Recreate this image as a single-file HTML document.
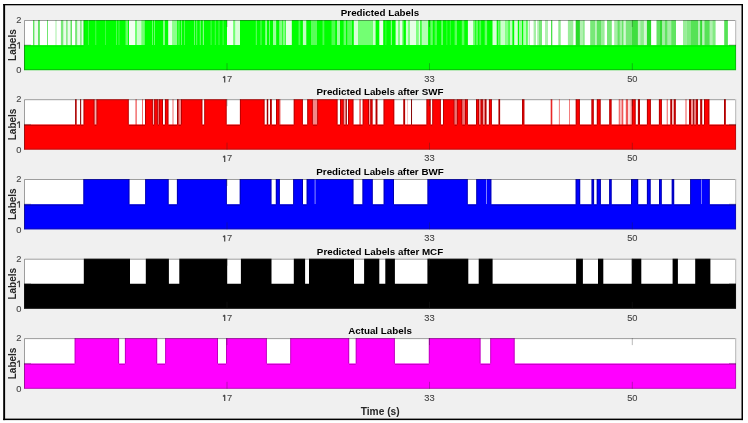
<!DOCTYPE html><html><head><meta charset="utf-8"><style>html,body{margin:0;padding:0;background:#fff;}svg{display:block;will-change:transform;}text{font-family:"Liberation Sans",sans-serif;}.tk{font-size:9.3px;fill:#444;stroke:#444;stroke-width:0.1px;}</style></head><body>
<svg width="748" height="423" viewBox="0 0 748 423">
<rect x="0" y="0" width="748" height="423" fill="#ffffff"/>
<rect x="4" y="4.6" width="738" height="414.8" fill="#f0f0f0"/>
<rect x="3.2" y="4.0" width="739.8" height="1.3" fill="#000"/>
<rect x="3.2" y="418.6" width="739.8" height="1.5" fill="#000"/>
<rect x="3.2" y="4.0" width="1.9" height="416.1" fill="#000"/>
<rect x="741.5" y="4.0" width="1.5" height="416.1" fill="#000"/>
<rect x="24" y="20" width="712" height="50.2" fill="#fff"/>
<rect x="33" y="20" width="1.4" height="26.1" fill="#1ed81e" fill-opacity="0.7"/>
<rect x="34.4" y="20" width="3.6" height="26.1" fill="#1ed81e" fill-opacity="0.08"/>
<rect x="38" y="20" width="1.9" height="26.1" fill="#1ed81e" fill-opacity="0.7"/>
<rect x="47.1" y="20" width="0.8" height="26.1" fill="#1ed81e" fill-opacity="0.8"/>
<rect x="55.5" y="20" width="1" height="26.1" fill="#1ed81e" fill-opacity="0.4"/>
<rect x="60.9" y="20" width="2.4" height="26.1" fill="#1ed81e" fill-opacity="0.6"/>
<rect x="63.3" y="20" width="3" height="26.1" fill="#1ed81e" fill-opacity="0.1"/>
<rect x="66.3" y="20" width="1.2" height="26.1" fill="#1ed81e" fill-opacity="0.7"/>
<rect x="67.5" y="20" width="3" height="26.1" fill="#1ed81e" fill-opacity="0.1"/>
<rect x="70.5" y="20" width="1.5" height="26.1" fill="#1ed81e" fill-opacity="0.7"/>
<rect x="75.1" y="20" width="2.1" height="26.1" fill="#1ed81e" fill-opacity="0.6"/>
<rect x="77.2" y="20" width="3" height="26.1" fill="#1ed81e" fill-opacity="0.1"/>
<rect x="80.2" y="20" width="1.4" height="26.1" fill="#1ed81e" fill-opacity="0.6"/>
<rect x="81.6" y="20" width="1.9" height="26.1" fill="#1ed81e" fill-opacity="0.1"/>
<rect x="83.5" y="20" width="446.5" height="26.1" fill="#00ff00"/>
<rect x="533.6" y="20" width="2.4" height="26.1" fill="#1ed81e" fill-opacity="0.4"/>
<rect x="537.2" y="20" width="1.8" height="26.1" fill="#1ed81e" fill-opacity="0.35"/>
<rect x="539" y="20" width="3" height="26.1" fill="#1ed81e" fill-opacity="0.6"/>
<rect x="545" y="20" width="3" height="26.1" fill="#1ed81e" fill-opacity="0.35"/>
<rect x="551" y="20" width="1.3" height="26.1" fill="#1ed81e" fill-opacity="0.8"/>
<rect x="558.3" y="20" width="2.4" height="26.1" fill="#1ed81e" fill-opacity="0.5"/>
<rect x="567.9" y="20" width="5.4" height="26.1" fill="#1ed81e" fill-opacity="0.45"/>
<rect x="575.7" y="20" width="4.2" height="26.1" fill="#1ed81e" fill-opacity="0.95"/>
<rect x="579.9" y="20" width="3" height="26.1" fill="#1ed81e" fill-opacity="0.35"/>
<rect x="582.9" y="20" width="1.8" height="26.1" fill="#1ed81e" fill-opacity="0.5"/>
<rect x="590.2" y="20" width="4.8" height="26.1" fill="#1ed81e" fill-opacity="0.6"/>
<rect x="595" y="20" width="1.8" height="26.1" fill="#1ed81e" fill-opacity="0.3"/>
<rect x="596.8" y="20" width="4.2" height="26.1" fill="#1ed81e" fill-opacity="0.7"/>
<rect x="601" y="20" width="3.6" height="26.1" fill="#1ed81e" fill-opacity="0.45"/>
<rect x="607" y="20" width="4.8" height="26.1" fill="#1ed81e" fill-opacity="0.6"/>
<rect x="614.2" y="20" width="3.2" height="26.1" fill="#1ed81e" fill-opacity="0.4"/>
<rect x="617.4" y="20" width="2.4" height="26.1" fill="#1ed81e" fill-opacity="0.7"/>
<rect x="619.8" y="20" width="2.4" height="26.1" fill="#1ed81e" fill-opacity="0.4"/>
<rect x="622.2" y="20" width="1.2" height="26.1" fill="#1ed81e" fill-opacity="0.8"/>
<rect x="623.4" y="20" width="2.4" height="26.1" fill="#1ed81e" fill-opacity="0.2"/>
<rect x="625.8" y="20" width="6" height="26.1" fill="#1ed81e" fill-opacity="0.6"/>
<rect x="631.8" y="20" width="6.1" height="26.1" fill="#1ed81e" fill-opacity="0.85"/>
<rect x="637.9" y="20" width="2.4" height="26.1" fill="#1ed81e" fill-opacity="0.3"/>
<rect x="640.3" y="20" width="3.6" height="26.1" fill="#1ed81e" fill-opacity="0.5"/>
<rect x="643.9" y="20" width="3" height="26.1" fill="#1ed81e" fill-opacity="0.2"/>
<rect x="646.9" y="20" width="4.2" height="26.1" fill="#1ed81e" fill-opacity="0.95"/>
<rect x="656.5" y="20" width="3.5" height="26.1" fill="#1ed81e" fill-opacity="0.7"/>
<rect x="660" y="20" width="2.1" height="26.1" fill="#1ed81e" fill-opacity="0.9"/>
<rect x="662.1" y="20" width="2.7" height="26.1" fill="#1ed81e" fill-opacity="0.4"/>
<rect x="664.8" y="20" width="2.7" height="26.1" fill="#1ed81e" fill-opacity="0.7"/>
<rect x="667.5" y="20" width="3.7" height="26.1" fill="#1ed81e" fill-opacity="0.4"/>
<rect x="671.2" y="20" width="4.8" height="26.1" fill="#1ed81e" fill-opacity="0.7"/>
<rect x="683" y="20" width="3.7" height="26.1" fill="#1ed81e" fill-opacity="0.45"/>
<rect x="686.7" y="20" width="4.3" height="26.1" fill="#1ed81e" fill-opacity="0.55"/>
<rect x="691" y="20" width="7" height="26.1" fill="#1ed81e" fill-opacity="0.75"/>
<rect x="698" y="20" width="2.1" height="26.1" fill="#1ed81e" fill-opacity="0.35"/>
<rect x="700.1" y="20" width="2.1" height="26.1" fill="#1ed81e" fill-opacity="0.9"/>
<rect x="702.2" y="20" width="2.2" height="26.1" fill="#1ed81e" fill-opacity="0.3"/>
<rect x="704.4" y="20" width="5.3" height="26.1" fill="#1ed81e" fill-opacity="0.75"/>
<rect x="709.7" y="20" width="2.7" height="26.1" fill="#1ed81e" fill-opacity="0.35"/>
<rect x="712.4" y="20" width="3.2" height="26.1" fill="#1ed81e" fill-opacity="0.55"/>
<rect x="724.2" y="20" width="3.7" height="26.1" fill="#1ed81e" fill-opacity="0.75"/>
<rect x="88.2" y="20" width="0.8" height="25.1" fill="#fff" fill-opacity="0.3"/>
<rect x="95.4" y="20" width="0.8" height="25.1" fill="#fff" fill-opacity="0.35"/>
<rect x="105" y="20" width="0.8" height="25.1" fill="#fff" fill-opacity="0.3"/>
<rect x="116" y="20" width="1" height="25.1" fill="#fff" fill-opacity="0.3"/>
<rect x="118.5" y="20" width="1" height="25.1" fill="#fff" fill-opacity="0.3"/>
<rect x="125.5" y="20" width="2.5" height="25.1" fill="#fff" fill-opacity="0.4"/>
<rect x="129" y="20" width="6" height="25.1" fill="#fff" fill-opacity="0.95"/>
<rect x="135" y="20" width="2" height="25.1" fill="#fff" fill-opacity="0.45"/>
<rect x="137" y="20" width="4.6" height="25.1" fill="#fff" fill-opacity="0.8"/>
<rect x="141.6" y="20" width="3.2" height="25.1" fill="#fff" fill-opacity="0.45"/>
<rect x="152" y="20" width="1" height="25.1" fill="#fff" fill-opacity="0.4"/>
<rect x="154" y="20" width="1" height="25.1" fill="#fff" fill-opacity="0.4"/>
<rect x="163" y="20" width="2" height="25.1" fill="#fff" fill-opacity="0.5"/>
<rect x="168.2" y="20" width="4.2" height="25.1" fill="#fff" fill-opacity="0.9"/>
<rect x="172.4" y="20" width="4.8" height="25.1" fill="#fff" fill-opacity="0.55"/>
<rect x="178.4" y="20" width="1.1" height="25.1" fill="#fff" fill-opacity="0.4"/>
<rect x="181" y="20" width="1" height="25.1" fill="#fff" fill-opacity="0.4"/>
<rect x="184" y="20" width="1" height="25.1" fill="#fff" fill-opacity="0.3"/>
<rect x="194" y="20" width="1" height="25.1" fill="#fff" fill-opacity="0.4"/>
<rect x="196.2" y="20" width="1" height="25.1" fill="#fff" fill-opacity="0.4"/>
<rect x="199.8" y="20" width="1" height="25.1" fill="#fff" fill-opacity="0.45"/>
<rect x="202.8" y="20" width="1.2" height="25.1" fill="#fff" fill-opacity="0.5"/>
<rect x="210.6" y="20" width="1" height="25.1" fill="#fff" fill-opacity="0.3"/>
<rect x="214.8" y="20" width="1" height="25.1" fill="#fff" fill-opacity="0.3"/>
<rect x="218.5" y="20" width="1" height="25.1" fill="#fff" fill-opacity="0.3"/>
<rect x="222.6" y="20" width="1" height="25.1" fill="#fff" fill-opacity="0.3"/>
<rect x="227" y="20" width="6.3" height="25.1" fill="#fff" fill-opacity="0.95"/>
<rect x="233.3" y="20" width="1.8" height="25.1" fill="#fff" fill-opacity="0.45"/>
<rect x="235.1" y="20" width="4.9" height="25.1" fill="#fff" fill-opacity="0.85"/>
<rect x="255.8" y="20" width="1" height="25.1" fill="#fff" fill-opacity="0.4"/>
<rect x="260.5" y="20" width="1" height="25.1" fill="#fff" fill-opacity="0.4"/>
<rect x="265.2" y="20" width="1.8" height="25.1" fill="#fff" fill-opacity="0.55"/>
<rect x="269" y="20" width="1" height="25.1" fill="#fff" fill-opacity="0.45"/>
<rect x="273" y="20" width="2.4" height="25.1" fill="#fff" fill-opacity="0.6"/>
<rect x="275" y="20" width="1.2" height="25.1" fill="#fff" fill-opacity="0.5"/>
<rect x="279.2" y="20" width="3" height="25.1" fill="#fff" fill-opacity="0.5"/>
<rect x="282.8" y="20" width="2.4" height="25.1" fill="#fff" fill-opacity="0.5"/>
<rect x="285.8" y="20" width="6" height="25.1" fill="#fff" fill-opacity="0.9"/>
<rect x="298.5" y="20" width="1.8" height="25.1" fill="#fff" fill-opacity="0.3"/>
<rect x="302.9" y="20" width="3.4" height="25.1" fill="#fff" fill-opacity="0.75"/>
<rect x="311" y="20" width="6" height="25.1" fill="#fff" fill-opacity="0.35"/>
<rect x="322.5" y="20" width="1.8" height="25.1" fill="#fff" fill-opacity="0.3"/>
<rect x="331.5" y="20" width="3.7" height="25.1" fill="#fff" fill-opacity="0.3"/>
<rect x="337" y="20" width="3" height="25.1" fill="#fff" fill-opacity="0.6"/>
<rect x="343.6" y="20" width="2.4" height="25.1" fill="#fff" fill-opacity="0.4"/>
<rect x="347.2" y="20" width="4.8" height="25.1" fill="#fff" fill-opacity="0.35"/>
<rect x="353.8" y="20" width="4.2" height="25.1" fill="#fff" fill-opacity="0.85"/>
<rect x="358" y="20" width="14.4" height="25.1" fill="#fff" fill-opacity="0.45"/>
<rect x="372.6" y="20" width="3" height="25.1" fill="#fff" fill-opacity="0.8"/>
<rect x="379.3" y="20" width="3.9" height="25.1" fill="#fff" fill-opacity="0.92"/>
<rect x="385.5" y="20" width="0.8" height="25.1" fill="#fff" fill-opacity="0.3"/>
<rect x="390.8" y="20" width="1.2" height="25.1" fill="#fff" fill-opacity="0.5"/>
<rect x="395.6" y="20" width="2.4" height="25.1" fill="#fff" fill-opacity="0.85"/>
<rect x="398" y="20" width="1.9" height="25.1" fill="#fff" fill-opacity="0.5"/>
<rect x="399.9" y="20" width="2.4" height="25.1" fill="#fff" fill-opacity="0.9"/>
<rect x="402.3" y="20" width="1.2" height="25.1" fill="#fff" fill-opacity="0.5"/>
<rect x="405.9" y="20" width="2.4" height="25.1" fill="#fff" fill-opacity="0.8"/>
<rect x="408.3" y="20" width="1.7" height="25.1" fill="#fff" fill-opacity="0.5"/>
<rect x="410" y="20" width="6" height="25.1" fill="#fff" fill-opacity="0.9"/>
<rect x="416" y="20" width="2.5" height="25.1" fill="#fff" fill-opacity="0.5"/>
<rect x="418.5" y="20" width="1.8" height="25.1" fill="#fff" fill-opacity="0.85"/>
<rect x="421.5" y="20" width="6.6" height="25.1" fill="#fff" fill-opacity="0.7"/>
<rect x="430.4" y="20" width="2.4" height="25.1" fill="#fff" fill-opacity="0.4"/>
<rect x="434.6" y="20" width="2.4" height="25.1" fill="#fff" fill-opacity="0.3"/>
<rect x="441.2" y="20" width="1.8" height="25.1" fill="#fff" fill-opacity="0.4"/>
<rect x="446.2" y="20" width="1.2" height="25.1" fill="#fff" fill-opacity="0.2"/>
<rect x="449.8" y="20" width="1.2" height="25.1" fill="#fff" fill-opacity="0.2"/>
<rect x="454.6" y="20" width="2.4" height="25.1" fill="#fff" fill-opacity="0.35"/>
<rect x="461.8" y="20" width="2.5" height="25.1" fill="#fff" fill-opacity="0.35"/>
<rect x="467.9" y="20" width="5.4" height="25.1" fill="#fff" fill-opacity="0.9"/>
<rect x="473.3" y="20" width="1.8" height="25.1" fill="#fff" fill-opacity="0.4"/>
<rect x="475.7" y="20" width="2.4" height="25.1" fill="#fff" fill-opacity="0.35"/>
<rect x="479.3" y="20" width="1.8" height="25.1" fill="#fff" fill-opacity="0.3"/>
<rect x="484.7" y="20" width="2.4" height="25.1" fill="#fff" fill-opacity="0.4"/>
<rect x="492.5" y="20" width="4.2" height="25.1" fill="#fff" fill-opacity="0.85"/>
<rect x="497.9" y="20" width="1.8" height="25.1" fill="#fff" fill-opacity="0.4"/>
<rect x="500.3" y="20" width="4.9" height="25.1" fill="#fff" fill-opacity="0.8"/>
<rect x="505.2" y="20" width="3.4" height="25.1" fill="#fff" fill-opacity="0.55"/>
<rect x="509.6" y="20" width="2.8" height="25.1" fill="#fff" fill-opacity="0.75"/>
<rect x="514.2" y="20" width="3.6" height="25.1" fill="#fff" fill-opacity="0.85"/>
<rect x="519" y="20" width="3" height="25.1" fill="#fff" fill-opacity="0.6"/>
<rect x="523.2" y="20" width="3.3" height="25.1" fill="#fff" fill-opacity="0.7"/>
<rect x="527.5" y="20" width="2.5" height="25.1" fill="#fff" fill-opacity="0.85"/>
<rect x="24" y="45.1" width="712" height="25.1" fill="#00ff00"/>
<path d="M24 46H83.5M84 20V45.1M529.5 20V45.1M530 46H736" fill="none" stroke="#000" stroke-opacity="0.12" stroke-width="1"/>
<path d="M24.5 70.2V20.5H735" fill="none" stroke="#262626" stroke-opacity="0.45" stroke-width="1"/>
<path d="M735.6 20V70.2" fill="none" stroke="#262626" stroke-opacity="0.28" stroke-width="1.2"/>
<path d="M25 69.7H735M227 70.2V63.2M227 20V27M429.5 70.2V63.2M429.5 20V27M632.3 70.2V63.2M632.3 20V27M24 45.1H31M736 45.1H729" fill="none" stroke="#262626" stroke-opacity="0.32" stroke-width="1"/>
<text x="21.3" y="23" class="tk" text-anchor="end">2</text>
<text x="21.3" y="73.4" class="tk" text-anchor="end">0</text>
<path d="M19.45 42.2V48.65M17.1 44.1L19.45 42.2" fill="none" stroke="#444" stroke-width="1.15"/>
<path d="M224.7 76.3V82.4M223 77.9L224.7 76.3" fill="none" stroke="#444" stroke-width="1.2"/>
<text x="226.9" y="81.9" class="tk">7</text>
<text x="429.5" y="81.9" class="tk" text-anchor="middle">33</text>
<text x="632.3" y="81.9" class="tk" text-anchor="middle">50</text>
<text x="380" y="15.8" font-size="9.8" font-weight="bold" fill="#000" text-anchor="middle">Predicted Labels</text>
<text transform="translate(15.9 45.1) rotate(-90)" font-size="10" font-weight="bold" fill="#262626" text-anchor="middle">Labels</text>
<rect x="24" y="99.2" width="712" height="50.5" fill="#fff"/>
<rect x="75.1" y="99.2" width="1.5" height="26.25" fill="#ff0000"/>
<rect x="80.2" y="99.2" width="0.9" height="26.25" fill="#ff0000"/>
<rect x="83.5" y="99.2" width="11.1" height="26.25" fill="#ff0000"/>
<rect x="94.6" y="99.2" width="1.8" height="26.25" fill="#e81010" fill-opacity="0.35"/>
<rect x="96.4" y="99.2" width="32.4" height="26.25" fill="#ff0000"/>
<rect x="135.5" y="99.2" width="1.2" height="26.25" fill="#e81010" fill-opacity="0.75"/>
<rect x="142.1" y="99.2" width="0.8" height="26.25" fill="#e81010" fill-opacity="0.75"/>
<rect x="145" y="99.2" width="7.9" height="26.25" fill="#ff0000"/>
<rect x="152.9" y="99.2" width="1.2" height="26.25" fill="#e81010" fill-opacity="0.3"/>
<rect x="154.1" y="99.2" width="3.8" height="26.25" fill="#ff0000"/>
<rect x="157.9" y="99.2" width="0.9" height="26.25" fill="#e81010" fill-opacity="0.6"/>
<rect x="158.8" y="99.2" width="4.2" height="26.25" fill="#ff0000"/>
<rect x="164.9" y="99.2" width="3.6" height="26.25" fill="#ff0000"/>
<rect x="172.4" y="99.2" width="1.2" height="26.25" fill="#e81010" fill-opacity="0.5"/>
<rect x="177" y="99.2" width="1.6" height="26.25" fill="#ff0000"/>
<rect x="178.6" y="99.2" width="2.4" height="26.25" fill="#e81010" fill-opacity="0.5"/>
<rect x="181" y="99.2" width="21.4" height="26.25" fill="#ff0000"/>
<rect x="204.2" y="99.2" width="22.5" height="26.25" fill="#ff0000"/>
<rect x="239.9" y="99.2" width="24.7" height="26.25" fill="#ff0000"/>
<rect x="266.8" y="99.2" width="1.4" height="26.25" fill="#ff0000"/>
<rect x="270" y="99.2" width="1.8" height="26.25" fill="#ff0000"/>
<rect x="276" y="99.2" width="3.6" height="26.25" fill="#ff0000"/>
<rect x="279.6" y="99.2" width="1.4" height="26.25" fill="#e81010" fill-opacity="0.3"/>
<rect x="293.7" y="99.2" width="9.2" height="26.25" fill="#ff0000"/>
<rect x="307.2" y="99.2" width="5.7" height="26.25" fill="#ff0000"/>
<rect x="312.9" y="99.2" width="4.2" height="26.25" fill="#e81010" fill-opacity="0.5"/>
<rect x="317.1" y="99.2" width="20.5" height="26.25" fill="#ff0000"/>
<rect x="340" y="99.2" width="3.8" height="26.25" fill="#ff0000"/>
<rect x="343.8" y="99.2" width="1.9" height="26.25" fill="#e81010" fill-opacity="0.4"/>
<rect x="345.7" y="99.2" width="1.1" height="26.25" fill="#ff0000"/>
<rect x="348" y="99.2" width="5.5" height="26.25" fill="#ff0000"/>
<rect x="359.2" y="99.2" width="1.8" height="26.25" fill="#e81010" fill-opacity="0.6"/>
<rect x="362.6" y="99.2" width="6.4" height="26.25" fill="#ff0000"/>
<rect x="369" y="99.2" width="1.2" height="26.25" fill="#e81010" fill-opacity="0.4"/>
<rect x="370.2" y="99.2" width="2.4" height="26.25" fill="#ff0000"/>
<rect x="375.6" y="99.2" width="1.8" height="26.25" fill="#ff0000"/>
<rect x="383.5" y="99.2" width="10.8" height="26.25" fill="#ff0000"/>
<rect x="403.3" y="99.2" width="1.8" height="26.25" fill="#ff0000"/>
<rect x="407.2" y="99.2" width="0.8" height="26.25" fill="#e81010" fill-opacity="0.3"/>
<rect x="411.1" y="99.2" width="0.9" height="26.25" fill="#ff0000"/>
<rect x="426.4" y="99.2" width="4.3" height="26.25" fill="#ff0000"/>
<rect x="432.2" y="99.2" width="8.7" height="26.25" fill="#ff0000"/>
<rect x="443" y="99.2" width="11.6" height="26.25" fill="#ff0000"/>
<rect x="454.6" y="99.2" width="2.2" height="26.25" fill="#e81010" fill-opacity="0.6"/>
<rect x="456.8" y="99.2" width="5.6" height="26.25" fill="#ff0000"/>
<rect x="462.4" y="99.2" width="2.5" height="26.25" fill="#e81010" fill-opacity="0.6"/>
<rect x="464.9" y="99.2" width="3" height="26.25" fill="#ff0000"/>
<rect x="476" y="99.2" width="3.1" height="26.25" fill="#ff0000"/>
<rect x="479.1" y="99.2" width="1.4" height="26.25" fill="#e81010" fill-opacity="0.4"/>
<rect x="480.5" y="99.2" width="2.4" height="26.25" fill="#ff0000"/>
<rect x="482.9" y="99.2" width="1.8" height="26.25" fill="#e81010" fill-opacity="0.4"/>
<rect x="484.7" y="99.2" width="1.8" height="26.25" fill="#ff0000"/>
<rect x="488.9" y="99.2" width="3" height="26.25" fill="#ff0000"/>
<rect x="498.5" y="99.2" width="1.6" height="26.25" fill="#ff0000"/>
<rect x="522" y="99.2" width="2.4" height="26.25" fill="#ff0000"/>
<rect x="550.7" y="99.2" width="1.6" height="26.25" fill="#e81010" fill-opacity="0.9"/>
<rect x="558.9" y="99.2" width="0.9" height="26.25" fill="#e81010" fill-opacity="0.6"/>
<rect x="569.1" y="99.2" width="0.9" height="26.25" fill="#e81010" fill-opacity="0.6"/>
<rect x="575.7" y="99.2" width="4.2" height="26.25" fill="#ff0000"/>
<rect x="591.4" y="99.2" width="2.4" height="26.25" fill="#ff0000"/>
<rect x="596.8" y="99.2" width="3.9" height="26.25" fill="#ff0000"/>
<rect x="609.2" y="99.2" width="2.4" height="26.25" fill="#ff0000"/>
<rect x="618.7" y="99.2" width="1.5" height="26.25" fill="#e81010" fill-opacity="0.6"/>
<rect x="620.2" y="99.2" width="1.4" height="26.25" fill="#e81010" fill-opacity="0.2"/>
<rect x="621.6" y="99.2" width="1.7" height="26.25" fill="#e81010" fill-opacity="0.7"/>
<rect x="625.8" y="99.2" width="2.2" height="26.25" fill="#e81010" fill-opacity="0.7"/>
<rect x="628" y="99.2" width="2.4" height="26.25" fill="#e81010" fill-opacity="0.15"/>
<rect x="630.4" y="99.2" width="1.4" height="26.25" fill="#e81010" fill-opacity="0.4"/>
<rect x="631.8" y="99.2" width="3.9" height="26.25" fill="#ff0000"/>
<rect x="637.9" y="99.2" width="2.1" height="26.25" fill="#ff0000"/>
<rect x="646.9" y="99.2" width="4" height="26.25" fill="#ff0000"/>
<rect x="658.9" y="99.2" width="3" height="26.25" fill="#ff0000"/>
<rect x="666.7" y="99.2" width="1.1" height="26.25" fill="#e81010" fill-opacity="0.6"/>
<rect x="670.3" y="99.2" width="1.9" height="26.25" fill="#ff0000"/>
<rect x="673.7" y="99.2" width="2.1" height="26.25" fill="#ff0000"/>
<rect x="685.4" y="99.2" width="1.2" height="26.25" fill="#e81010" fill-opacity="0.6"/>
<rect x="689" y="99.2" width="2" height="26.25" fill="#ff0000"/>
<rect x="691" y="99.2" width="2.2" height="26.25" fill="#e81010" fill-opacity="0.45"/>
<rect x="693.2" y="99.2" width="1" height="26.25" fill="#ff0000"/>
<rect x="694.2" y="99.2" width="1.6" height="26.25" fill="#e81010" fill-opacity="0.45"/>
<rect x="695.8" y="99.2" width="2.2" height="26.25" fill="#ff0000"/>
<rect x="700.2" y="99.2" width="2" height="26.25" fill="#ff0000"/>
<rect x="704" y="99.2" width="5.4" height="26.25" fill="#ff0000"/>
<rect x="724" y="99.2" width="1.8" height="26.25" fill="#ff0000"/>
<rect x="24" y="124.45" width="712" height="25.25" fill="#ff0000"/>
<path d="M24 125.35H75.1M75.6 99.2V124.45M76.1 99.2V124.45M76.6 125.35H80.2M80.7 99.2V124.45M80.6 99.2V124.45M81.1 125.35H83.5M84 99.2V124.45M94.1 99.2V124.45M94.6 125.35H96.4M96.9 99.2V124.45M128.3 99.2V124.45M128.8 125.35H145M145.5 99.2V124.45M152.4 99.2V124.45M152.9 125.35H154.1M154.6 99.2V124.45M157.4 99.2V124.45M157.9 125.35H158.8M159.3 99.2V124.45M162.5 99.2V124.45M163 125.35H164.9M165.4 99.2V124.45M168 99.2V124.45M168.5 125.35H177M177.5 99.2V124.45M178.1 99.2V124.45M178.6 125.35H181M181.5 99.2V124.45M201.9 99.2V124.45M202.4 125.35H204.2M204.7 99.2V124.45M226.2 99.2V124.45M226.7 125.35H239.9M240.4 99.2V124.45M264.1 99.2V124.45M264.6 125.35H266.8M267.3 99.2V124.45M267.7 99.2V124.45M268.2 125.35H270M270.5 99.2V124.45M271.3 99.2V124.45M271.8 125.35H276M276.5 99.2V124.45M279.1 99.2V124.45M279.6 125.35H293.7M294.2 99.2V124.45M302.4 99.2V124.45M302.9 125.35H307.2M307.7 99.2V124.45M312.4 99.2V124.45M312.9 125.35H317.1M317.6 99.2V124.45M337.1 99.2V124.45M337.6 125.35H340M340.5 99.2V124.45M343.3 99.2V124.45M343.8 125.35H345.7M346.2 99.2V124.45M346.3 99.2V124.45M346.8 125.35H348M348.5 99.2V124.45M353 99.2V124.45M353.5 125.35H362.6M363.1 99.2V124.45M368.5 99.2V124.45M369 125.35H370.2M370.7 99.2V124.45M372.1 99.2V124.45M372.6 125.35H375.6M376.1 99.2V124.45M376.9 99.2V124.45M377.4 125.35H383.5M384 99.2V124.45M393.8 99.2V124.45M394.3 125.35H403.3M403.8 99.2V124.45M404.6 99.2V124.45M405.1 125.35H411.1M411.6 99.2V124.45M411.5 99.2V124.45M412 125.35H426.4M426.9 99.2V124.45M430.2 99.2V124.45M430.7 125.35H432.2M432.7 99.2V124.45M440.4 99.2V124.45M440.9 125.35H443M443.5 99.2V124.45M454.1 99.2V124.45M454.6 125.35H456.8M457.3 99.2V124.45M461.9 99.2V124.45M462.4 125.35H464.9M465.4 99.2V124.45M467.4 99.2V124.45M467.9 125.35H476M476.5 99.2V124.45M478.6 99.2V124.45M479.1 125.35H480.5M481 99.2V124.45M482.4 99.2V124.45M482.9 125.35H484.7M485.2 99.2V124.45M486 99.2V124.45M486.5 125.35H488.9M489.4 99.2V124.45M491.4 99.2V124.45M491.9 125.35H498.5M499 99.2V124.45M499.6 99.2V124.45M500.1 125.35H522M522.5 99.2V124.45M523.9 99.2V124.45M524.4 125.35H575.7M576.2 99.2V124.45M579.4 99.2V124.45M579.9 125.35H591.4M591.9 99.2V124.45M593.3 99.2V124.45M593.8 125.35H596.8M597.3 99.2V124.45M600.2 99.2V124.45M600.7 125.35H609.2M609.7 99.2V124.45M611.1 99.2V124.45M611.6 125.35H631.8M632.3 99.2V124.45M635.2 99.2V124.45M635.7 125.35H637.9M638.4 99.2V124.45M639.5 99.2V124.45M640 125.35H646.9M647.4 99.2V124.45M650.4 99.2V124.45M650.9 125.35H658.9M659.4 99.2V124.45M661.4 99.2V124.45M661.9 125.35H670.3M670.8 99.2V124.45M671.7 99.2V124.45M672.2 125.35H673.7M674.2 99.2V124.45M675.3 99.2V124.45M675.8 125.35H689M689.5 99.2V124.45M690.5 99.2V124.45M691 125.35H693.2M693.7 99.2V124.45M693.7 99.2V124.45M694.2 125.35H695.8M696.3 99.2V124.45M697.5 99.2V124.45M698 125.35H700.2M700.7 99.2V124.45M701.7 99.2V124.45M702.2 125.35H704M704.5 99.2V124.45M708.9 99.2V124.45M709.4 125.35H724M724.5 99.2V124.45M725.3 99.2V124.45M725.8 125.35H736" fill="none" stroke="#000" stroke-opacity="0.28" stroke-width="1"/>
<path d="M24.5 149.7V99.7H735" fill="none" stroke="#262626" stroke-opacity="0.45" stroke-width="1"/>
<path d="M735.6 99.2V149.7" fill="none" stroke="#262626" stroke-opacity="0.28" stroke-width="1.2"/>
<path d="M25 149.2H735M227 149.7V142.7M227 99.2V106.2M429.5 149.7V142.7M429.5 99.2V106.2M632.3 149.7V142.7M632.3 99.2V106.2M24 124.45H31M736 124.45H729" fill="none" stroke="#262626" stroke-opacity="0.32" stroke-width="1"/>
<text x="21.3" y="102.2" class="tk" text-anchor="end">2</text>
<text x="21.3" y="152.9" class="tk" text-anchor="end">0</text>
<path d="M19.45 121.55V128M17.1 123.45L19.45 121.55" fill="none" stroke="#444" stroke-width="1.15"/>
<path d="M224.7 155.8V161.9M223 157.4L224.7 155.8" fill="none" stroke="#444" stroke-width="1.2"/>
<text x="226.9" y="161.4" class="tk">7</text>
<text x="429.5" y="161.4" class="tk" text-anchor="middle">33</text>
<text x="632.3" y="161.4" class="tk" text-anchor="middle">50</text>
<text x="380" y="95" font-size="9.8" font-weight="bold" fill="#000" text-anchor="middle">Predicted Labels after SWF</text>
<text transform="translate(15.9 124.45) rotate(-90)" font-size="10" font-weight="bold" fill="#262626" text-anchor="middle">Labels</text>
<rect x="24" y="179" width="712" height="50.4" fill="#fff"/>
<rect x="83.3" y="179" width="46.2" height="26.2" fill="#0000ff"/>
<rect x="145.1" y="179" width="23.6" height="26.2" fill="#0000ff"/>
<rect x="176.9" y="179" width="50" height="26.2" fill="#0000ff"/>
<rect x="239.7" y="179" width="31.8" height="26.2" fill="#0000ff"/>
<rect x="275.8" y="179" width="4.1" height="26.2" fill="#0000ff"/>
<rect x="293.1" y="179" width="9.9" height="26.2" fill="#0000ff"/>
<rect x="306.6" y="179" width="46.9" height="26.2" fill="#0000ff"/>
<rect x="362.4" y="179" width="10.4" height="26.2" fill="#0000ff"/>
<rect x="383.6" y="179" width="10.4" height="26.2" fill="#0000ff"/>
<rect x="427.4" y="179" width="40.4" height="26.2" fill="#0000ff"/>
<rect x="476.2" y="179" width="15.2" height="26.2" fill="#0000ff"/>
<rect x="575.6" y="179" width="4.6" height="26.2" fill="#0000ff"/>
<rect x="591.5" y="179" width="2.6" height="26.2" fill="#0000ff"/>
<rect x="596.7" y="179" width="4.2" height="26.2" fill="#0000ff"/>
<rect x="609.1" y="179" width="2.6" height="26.2" fill="#0000ff"/>
<rect x="631" y="179" width="7.2" height="26.2" fill="#0000ff"/>
<rect x="646.9" y="179" width="3.8" height="26.2" fill="#0000ff"/>
<rect x="659" y="179" width="2.8" height="26.2" fill="#0000ff"/>
<rect x="671.7" y="179" width="2.5" height="26.2" fill="#0000ff"/>
<rect x="690.1" y="179" width="19.7" height="26.2" fill="#0000ff"/>
<rect x="314.6" y="179" width="1" height="25.2" fill="#fff" fill-opacity="0.55"/>
<rect x="486" y="179" width="1" height="25.2" fill="#fff" fill-opacity="0.5"/>
<rect x="701" y="179" width="1" height="25.2" fill="#fff" fill-opacity="0.45"/>
<rect x="24" y="204.2" width="712" height="25.2" fill="#0000ff"/>
<path d="M24 205.1H83.3M83.8 179V204.2M129 179V204.2M129.5 205.1H145.1M145.6 179V204.2M168.2 179V204.2M168.7 205.1H176.9M177.4 179V204.2M226.4 179V204.2M226.9 205.1H239.7M240.2 179V204.2M271 179V204.2M271.5 205.1H275.8M276.3 179V204.2M279.4 179V204.2M279.9 205.1H293.1M293.6 179V204.2M302.5 179V204.2M303 205.1H306.6M307.1 179V204.2M353 179V204.2M353.5 205.1H362.4M362.9 179V204.2M372.3 179V204.2M372.8 205.1H383.6M384.1 179V204.2M393.5 179V204.2M394 205.1H427.4M427.9 179V204.2M467.3 179V204.2M467.8 205.1H476.2M476.7 179V204.2M490.9 179V204.2M491.4 205.1H575.6M576.1 179V204.2M579.7 179V204.2M580.2 205.1H591.5M592 179V204.2M593.6 179V204.2M594.1 205.1H596.7M597.2 179V204.2M600.4 179V204.2M600.9 205.1H609.1M609.6 179V204.2M611.2 179V204.2M611.7 205.1H631M631.5 179V204.2M637.7 179V204.2M638.2 205.1H646.9M647.4 179V204.2M650.2 179V204.2M650.7 205.1H659M659.5 179V204.2M661.3 179V204.2M661.8 205.1H671.7M672.2 179V204.2M673.7 179V204.2M674.2 205.1H690.1M690.6 179V204.2M709.3 179V204.2M709.8 205.1H736" fill="none" stroke="#000" stroke-opacity="0.3" stroke-width="1"/>
<path d="M24.5 229.4V179.5H735" fill="none" stroke="#262626" stroke-opacity="0.45" stroke-width="1"/>
<path d="M735.6 179V229.4" fill="none" stroke="#262626" stroke-opacity="0.28" stroke-width="1.2"/>
<path d="M25 228.9H735M227 229.4V222.4M227 179V186M429.5 229.4V222.4M429.5 179V186M632.3 229.4V222.4M632.3 179V186M24 204.2H31M736 204.2H729" fill="none" stroke="#262626" stroke-opacity="0.32" stroke-width="1"/>
<text x="21.3" y="182" class="tk" text-anchor="end">2</text>
<text x="21.3" y="232.6" class="tk" text-anchor="end">0</text>
<path d="M19.45 201.3V207.75M17.1 203.2L19.45 201.3" fill="none" stroke="#444" stroke-width="1.15"/>
<path d="M224.7 235.5V241.6M223 237.1L224.7 235.5" fill="none" stroke="#444" stroke-width="1.2"/>
<text x="226.9" y="241.1" class="tk">7</text>
<text x="429.5" y="241.1" class="tk" text-anchor="middle">33</text>
<text x="632.3" y="241.1" class="tk" text-anchor="middle">50</text>
<text x="380" y="174.8" font-size="9.8" font-weight="bold" fill="#000" text-anchor="middle">Predicted Labels after BWF</text>
<text transform="translate(15.9 204.2) rotate(-90)" font-size="10" font-weight="bold" fill="#262626" text-anchor="middle">Labels</text>
<rect x="24" y="258.7" width="712" height="50.1" fill="#fff"/>
<rect x="83.8" y="258.7" width="46.2" height="26.05" fill="#000000"/>
<rect x="145.8" y="258.7" width="23.1" height="26.05" fill="#000000"/>
<rect x="179.3" y="258.7" width="47.9" height="26.05" fill="#000000"/>
<rect x="240.9" y="258.7" width="30.6" height="26.05" fill="#000000"/>
<rect x="293.8" y="258.7" width="11.3" height="26.05" fill="#000000"/>
<rect x="309" y="258.7" width="45" height="26.05" fill="#000000"/>
<rect x="364.1" y="258.7" width="15.2" height="26.05" fill="#000000"/>
<rect x="385.3" y="258.7" width="9.6" height="26.05" fill="#000000"/>
<rect x="427.4" y="258.7" width="40.9" height="26.05" fill="#000000"/>
<rect x="478.7" y="258.7" width="13.9" height="26.05" fill="#000000"/>
<rect x="576.1" y="258.7" width="6.8" height="26.05" fill="#000000"/>
<rect x="598" y="258.7" width="5.3" height="26.05" fill="#000000"/>
<rect x="631.7" y="258.7" width="9.6" height="26.05" fill="#000000"/>
<rect x="672.6" y="258.7" width="5.3" height="26.05" fill="#000000"/>
<rect x="695.2" y="258.7" width="15.2" height="26.05" fill="#000000"/>
<rect x="24" y="283.75" width="712" height="25.05" fill="#000000"/>
<path d="M24 284.65H83.8M84.3 258.7V283.75M129.5 258.7V283.75M130 284.65H145.8M146.3 258.7V283.75M168.4 258.7V283.75M168.9 284.65H179.3M179.8 258.7V283.75M226.7 258.7V283.75M227.2 284.65H240.9M241.4 258.7V283.75M271 258.7V283.75M271.5 284.65H293.8M294.3 258.7V283.75M304.6 258.7V283.75M305.1 284.65H309M309.5 258.7V283.75M353.5 258.7V283.75M354 284.65H364.1M364.6 258.7V283.75M378.8 258.7V283.75M379.3 284.65H385.3M385.8 258.7V283.75M394.4 258.7V283.75M394.9 284.65H427.4M427.9 258.7V283.75M467.8 258.7V283.75M468.3 284.65H478.7M479.2 258.7V283.75M492.1 258.7V283.75M492.6 284.65H576.1M576.6 258.7V283.75M582.4 258.7V283.75M582.9 284.65H598M598.5 258.7V283.75M602.8 258.7V283.75M603.3 284.65H631.7M632.2 258.7V283.75M640.8 258.7V283.75M641.3 284.65H672.6M673.1 258.7V283.75M677.4 258.7V283.75M677.9 284.65H695.2M695.7 258.7V283.75M709.9 258.7V283.75M710.4 284.65H736" fill="none" stroke="#000" stroke-opacity="0" stroke-width="1"/>
<path d="M24.5 308.8V259.2H735" fill="none" stroke="#262626" stroke-opacity="0.45" stroke-width="1"/>
<path d="M735.6 258.7V308.8" fill="none" stroke="#262626" stroke-opacity="0.28" stroke-width="1.2"/>
<path d="M25 308.3H735M227 308.8V301.8M227 258.7V265.7M429.5 308.8V301.8M429.5 258.7V265.7M632.3 308.8V301.8M632.3 258.7V265.7M24 283.75H31M736 283.75H729" fill="none" stroke="#262626" stroke-opacity="0.32" stroke-width="1"/>
<text x="21.3" y="261.7" class="tk" text-anchor="end">2</text>
<text x="21.3" y="312" class="tk" text-anchor="end">0</text>
<path d="M19.45 280.85V287.3M17.1 282.75L19.45 280.85" fill="none" stroke="#444" stroke-width="1.15"/>
<path d="M224.7 314.9V321M223 316.5L224.7 314.9" fill="none" stroke="#444" stroke-width="1.2"/>
<text x="226.9" y="320.5" class="tk">7</text>
<text x="429.5" y="320.5" class="tk" text-anchor="middle">33</text>
<text x="632.3" y="320.5" class="tk" text-anchor="middle">50</text>
<text x="380" y="254.5" font-size="9.8" font-weight="bold" fill="#000" text-anchor="middle">Predicted Labels after MCF</text>
<text transform="translate(15.9 283.75) rotate(-90)" font-size="10" font-weight="bold" fill="#262626" text-anchor="middle">Labels</text>
<rect x="24" y="338.1" width="712" height="50.7" fill="#fff"/>
<rect x="74.6" y="338.1" width="44.5" height="26.35" fill="#ff00ff"/>
<rect x="124.9" y="338.1" width="32.3" height="26.35" fill="#ff00ff"/>
<rect x="165.1" y="338.1" width="52.9" height="26.35" fill="#ff00ff"/>
<rect x="226" y="338.1" width="40.9" height="26.35" fill="#ff00ff"/>
<rect x="290.2" y="338.1" width="59" height="26.35" fill="#ff00ff"/>
<rect x="355.7" y="338.1" width="39.2" height="26.35" fill="#ff00ff"/>
<rect x="428.8" y="338.1" width="51.8" height="26.35" fill="#ff00ff"/>
<rect x="490.2" y="338.1" width="24.5" height="26.35" fill="#ff00ff"/>
<rect x="24" y="363.45" width="712" height="25.35" fill="#ff00ff"/>
<path d="M24 364.35H74.6M75.1 338.1V363.45M118.6 338.1V363.45M119.1 364.35H124.9M125.4 338.1V363.45M156.7 338.1V363.45M157.2 364.35H165.1M165.6 338.1V363.45M217.5 338.1V363.45M218 364.35H226M226.5 338.1V363.45M266.4 338.1V363.45M266.9 364.35H290.2M290.7 338.1V363.45M348.7 338.1V363.45M349.2 364.35H355.7M356.2 338.1V363.45M394.4 338.1V363.45M394.9 364.35H428.8M429.3 338.1V363.45M480.1 338.1V363.45M480.6 364.35H490.2M490.7 338.1V363.45M514.2 338.1V363.45M514.7 364.35H736" fill="none" stroke="#000" stroke-opacity="0.25" stroke-width="1"/>
<path d="M24.5 388.8V338.6H735" fill="none" stroke="#262626" stroke-opacity="0.45" stroke-width="1"/>
<path d="M735.6 338.1V388.8" fill="none" stroke="#262626" stroke-opacity="0.28" stroke-width="1.2"/>
<path d="M25 388.3H735M227 388.8V381.8M227 338.1V345.1M429.5 388.8V381.8M429.5 338.1V345.1M632.3 388.8V381.8M632.3 338.1V345.1M24 363.45H31M736 363.45H729" fill="none" stroke="#262626" stroke-opacity="0.32" stroke-width="1"/>
<text x="21.3" y="341.1" class="tk" text-anchor="end">2</text>
<text x="21.3" y="392" class="tk" text-anchor="end">0</text>
<path d="M19.45 360.55V367M17.1 362.45L19.45 360.55" fill="none" stroke="#444" stroke-width="1.15"/>
<path d="M224.7 394.9V401M223 396.5L224.7 394.9" fill="none" stroke="#444" stroke-width="1.2"/>
<text x="226.9" y="400.5" class="tk">7</text>
<text x="429.5" y="400.5" class="tk" text-anchor="middle">33</text>
<text x="632.3" y="400.5" class="tk" text-anchor="middle">50</text>
<text x="380" y="333.9" font-size="9.8" font-weight="bold" fill="#000" text-anchor="middle">Actual Labels</text>
<text transform="translate(15.9 363.45) rotate(-90)" font-size="10" font-weight="bold" fill="#262626" text-anchor="middle">Labels</text>
<text x="380.2" y="414.7" font-size="10.2" font-weight="bold" fill="#262626" text-anchor="middle">Time (s)</text>
</svg></body></html>
